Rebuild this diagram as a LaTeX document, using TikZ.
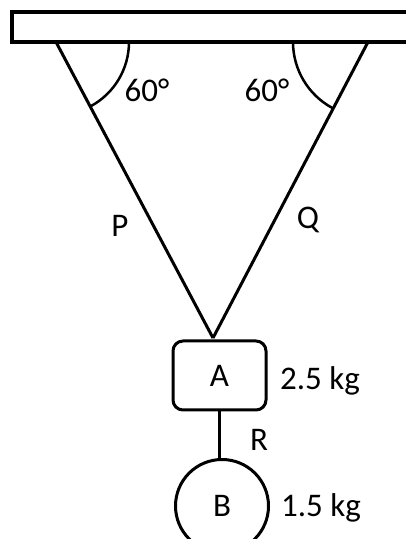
\documentclass[tikz,border=0pt]{standalone}
\usepackage{fontspec}
\setmainfont{Carlito}
\usepackage{tikz}
\usetikzlibrary{positioning, calc}

\begin{document}
\begin{tikzpicture}[
    x=1pt, y=1pt,
    mass/.style={draw, line width=3pt, align=center, font=\fontsize{33}{39}\selectfont, inner sep=0pt},
    rope/.style={line width=3pt},
    anglearc/.style={line width=2.5pt},
    label/.style={font=\fontsize{33}{39}\selectfont, inner sep=0pt}
]
\clip (0,0) rectangle (406,539);

% Ceiling
\draw[line width=4pt] (12,497) rectangle (420,527);
\coordinate (hookP) at (56,497);
\coordinate (hookQ) at (368,497);

% Masses
\node[mass, rectangle, rounded corners=10pt, minimum width=93pt, minimum height=69pt] (A) at (219.5,163.5) {A};
\node[mass, circle, minimum size=93pt] (B) at (222,33) {B};
\coordinate (knot) at (213,201);

% Strings
\draw[rope] (hookP) -- (knot);
\draw[rope] (hookQ) -- (knot);
\draw[rope] (A.south) -- (A.south |- B.north);

% Angles
\draw[anglearc] ($(hookP)+(0:73)$) arc[start angle=0, end angle=-62, radius=73];
\draw[anglearc] ($(hookQ)+(180:75)$) arc[start angle=180, end angle=242, radius=75];

% Labels
\node[label] (angP) at (147,449) {60°};
\node[label] (angQ) at (267,449) {60°};
\node[label] (tP) at (120,313) {P};
\node[label] (tQ) at (308,319) {Q};
\node[label] (tR) at (259,99) {R};
\node[label, anchor=west] (mA) at (280,158) {2.5 kg};
\node[label, anchor=west] (mB) at (281,31) {1.5 kg};

\end{tikzpicture}
\end{document}
